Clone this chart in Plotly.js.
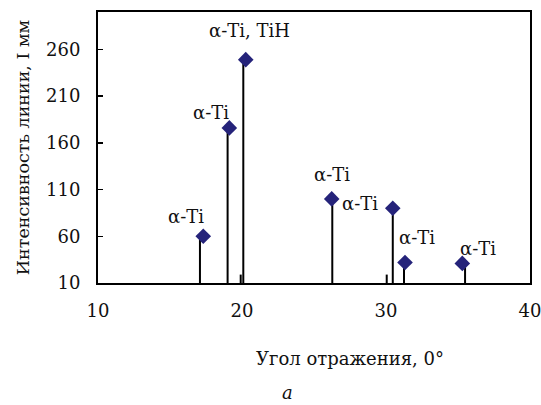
<!DOCTYPE html>
<html>
<head>
<meta charset="utf-8">
<script src="https://cdn.plot.ly/plotly-3.0.1.min.js"></script>
<style>html,body{margin:0;padding:0;background:#fff;}#chart{width:541px;height:405px;}</style>
</head>
<body>
<div id="chart"></div>
<script>
// Peak markers (angle, intensity)
var peakAngle = [17.31, 19.12, 20.26, 26.23, 30.47, 31.32, 35.30];
var peakIntensity = [60, 176, 249, 100, 90, 32, 31];
var peakLabels = ["α-Ti", "α-Ti", "α-Ti, TiH", "α-Ti", "α-Ti", "α-Ti", "α-Ti"];
// Stems (vertical lines from baseline)
var stemAngle = [17.08, 19.0, 20.09, 26.27, 30.47, 31.25, 35.49, 19.91, 30.05];
var stemIntensity = [58, 174, 247, 98, 88, 30, 30, 19, 19];
var baseline = 10;
var xTicks = [10, 20, 30, 40];
var yTicks = [10, 60, 110, 160, 210, 260];
var xTitle = 'Угол отражения, 0°';
var yTitle = 'Интенсивность линии, I мм';

// label offsets in pixels (layout only)
var labelShift = [[-17, 20], [-18, 15], [4, 29], [0, 24], [-33, 5], [12, 25], [16, 15]];

var sx = [], sy = [];
for (var i = 0; i < stemAngle.length; i++) {
  sx.push(stemAngle[i], stemAngle[i], null);
  sy.push(baseline, stemIntensity[i], null);
}

var traces = [
  {x: sx, y: sy, mode: 'lines', type: 'scatter', line: {color: '#000', width: 2}, hoverinfo: 'skip', showlegend: false},
  {x: peakAngle, y: peakIntensity, mode: 'markers', type: 'scatter',
   marker: {symbol: 'diamond', size: 12, color: '#25237a', line: {width: 0}}, showlegend: false}
];

var font = 'DejaVu Serif';
var annotations = peakLabels.map(function (t, i) {
  return {x: peakAngle[i], y: peakIntensity[i], xref: 'x', yref: 'y', text: t, showarrow: false,
    xshift: labelShift[i][0], yshift: labelShift[i][1], font: {family: font, size: 18, color: '#111'}};
});
annotations.push({x: 0.583, y: -0.277, xref: 'paper', yref: 'paper', yanchor: 'middle', xanchor: 'center',
  text: xTitle, showarrow: false, font: {family: font, size: 18, color: '#111'}});
annotations.push({x: 0.4375, y: -0.405, xref: 'paper', yref: 'paper', yanchor: 'middle', xanchor: 'center',
  text: '<i>a</i>', showarrow: false, font: {family: font, size: 18, color: '#111'}});

var layout = {
  width: 541, height: 405,
  margin: {l: 98, r: 11, t: 12, b: 122},
  paper_bgcolor: '#fff', plot_bgcolor: '#fff',
  font: {family: font, color: '#111', size: 18},
  xaxis: {
    range: [10, 40], tickvals: xTicks, ticktext: xTicks.map(String), ticks: '',
    showgrid: false, zeroline: false, showline: true, mirror: true, linecolor: '#000', linewidth: 2,
    tickfont: {family: font, size: 18, color: '#111'}, ticklabelstandoff: 10, ticklabeloverflow: 'allow'
  },
  yaxis: {
    range: [10, 300], tickvals: yTicks, ticktext: yTicks.map(String), ticks: 'inside', ticklen: 5, tickwidth: 1.5, tickcolor: '#000',
    showgrid: false, zeroline: false, showline: true, mirror: true, linecolor: '#000', linewidth: 2,
    tickfont: {family: font, size: 18, color: '#111'}, ticklabelstandoff: 12,
    title: {text: yTitle, font: {family: font, size: 17.5, color: '#111'}, standoff: 12}
  },
  annotations: annotations
};

Plotly.newPlot('chart', traces, layout, {displayModeBar: false, staticPlot: true});
</script>
</body>
</html>
